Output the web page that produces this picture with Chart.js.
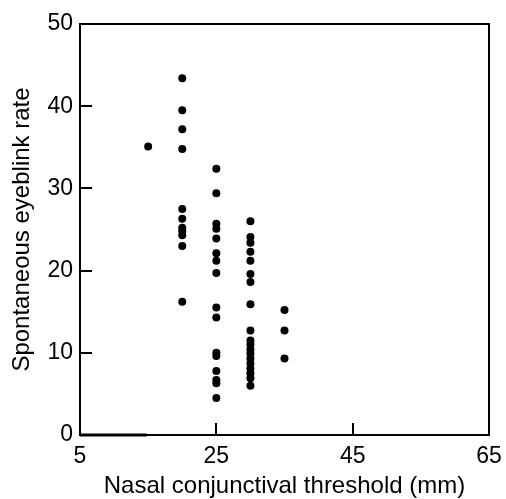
<!DOCTYPE html>
<html>
<head>
<meta charset="utf-8">
<script src="https://cdn.jsdelivr.net/npm/chart.js@4"></script>
<style>
  html, body { margin: 0; padding: 0; background: #fff; }
  #wrap { width: 506px; height: 499px; }
</style>
</head>
<body>
<div id="wrap"><canvas id="chart"></canvas></div>
<script>
// ── Data ───────────────────────────────────────────────────────────────────
const thresholds = [15, 20, 25, 30, 35];            // mm
const ratesAt15 = [35.1];
const ratesAt20 = [43.4, 39.5, 37.2, 34.8, 27.5, 26.3, 25.2, 24.8, 24.3, 23.0, 16.2];
const ratesAt25 = [32.4, 29.4, 25.7, 25.1, 23.9, 22.1, 21.2, 19.7, 15.5, 14.3, 10.0, 9.6, 7.8, 6.7, 6.3, 4.5];
const ratesAt30 = [26.0, 24.1, 23.4, 22.3, 21.2, 19.6, 18.6, 15.9, 12.7, 11.5, 11.0, 10.4, 9.9, 9.3, 8.7, 8.1, 7.5, 6.9, 6.0];
const ratesAt35 = [15.2, 12.7, 9.3];
const baselineX = [5, 14.8];                        // short heavy stroke on the x axis
const baselineY = [0, 0];

const xTicks = [5, 25, 45, 65];
const yTicks = [0, 10, 20, 30, 40, 50];

const rateGroups = [ratesAt15, ratesAt20, ratesAt25, ratesAt30, ratesAt35];
const points = [];
rateGroups.forEach((rates, i) => {
  rates.forEach(r => points.push({ x: thresholds[i], y: r }));
});

const FONT = '"Liberation Sans", Arial, Helvetica, sans-serif';

// Frame + inward tick marks, placed through the chart's own scales
const frameTicks = {
  id: 'frameTicks',
  afterDraw(chart) {
    const { ctx, chartArea: a, scales: { x, y } } = chart;
    ctx.save();
    ctx.strokeStyle = '#000';
    ctx.lineWidth = 2;
    ctx.strokeRect(a.left, a.top, a.right - a.left, a.bottom - a.top);
    ctx.beginPath();
    xTicks.slice(1, -1).forEach(v => {
      const px = Math.round(x.getPixelForValue(v));
      ctx.moveTo(px, a.bottom);
      ctx.lineTo(px, a.bottom - 12);
    });
    yTicks.slice(1, -1).forEach(v => {
      const py = Math.round(y.getPixelForValue(v));
      ctx.moveTo(a.left, py);
      ctx.lineTo(a.left + 12, py);
    });
    ctx.stroke();
    ctx.restore();
  }
};

new Chart(document.getElementById('chart'), {
  type: 'scatter',
  data: {
    datasets: [
      {
        data: points,
        backgroundColor: '#000',
        borderWidth: 0,
        pointRadius: 4,
        pointHoverRadius: 4,
      },
      {
        type: 'line',
        data: baselineX.map((v, i) => ({ x: v, y: baselineY[i] })),
        borderColor: '#000',
        borderWidth: 3,
        pointRadius: 0,
        clip: false,
      }
    ]
  },
  options: {
    responsive: true,
    maintainAspectRatio: false,
    animation: false,
    layout: { padding: { top: 24, right: 17, left: 0, bottom: 0 } },
    plugins: { legend: { display: false }, tooltip: { enabled: false } },
    scales: {
      x: {
        type: 'linear',
        min: 5, max: 65,
        afterBuildTicks: s => { s.ticks = xTicks.map(v => ({ value: v })); },
        afterFit: s => { s.height = 64; s.paddingLeft = 0; s.paddingRight = 0; },
        grid: { display: false, drawTicks: false },
        border: { display: true, color: '#000', width: 2 },
        ticks: { color: '#000', font: { family: FONT, size: 23 }, padding: 8, maxRotation: 0 },
        title: {
          display: true,
          text: 'Nasal conjunctival threshold (mm)',
          color: '#000',
          font: { family: FONT, size: 24 },
          padding: { top: 0, bottom: -2 }
        }
      },
      y: {
        min: 0, max: 50,
        afterBuildTicks: s => { s.ticks = yTicks.map(v => ({ value: v })); },
        afterFit: s => { s.width = 80; s.paddingTop = 0; s.paddingBottom = 0; },
        grid: { display: false, drawTicks: false },
        border: { display: true, color: '#000', width: 2 },
        ticks: { color: '#000', font: { family: FONT, size: 23 }, padding: 7 },
        title: {
          display: true,
          text: 'Spontaneous eyeblink rate',
          color: '#000',
          font: { family: FONT, size: 24 },
          padding: { top: 8, bottom: 0 }
        }
      }
    }
  },
  plugins: [frameTicks]
});
</script>
</body>
</html>
